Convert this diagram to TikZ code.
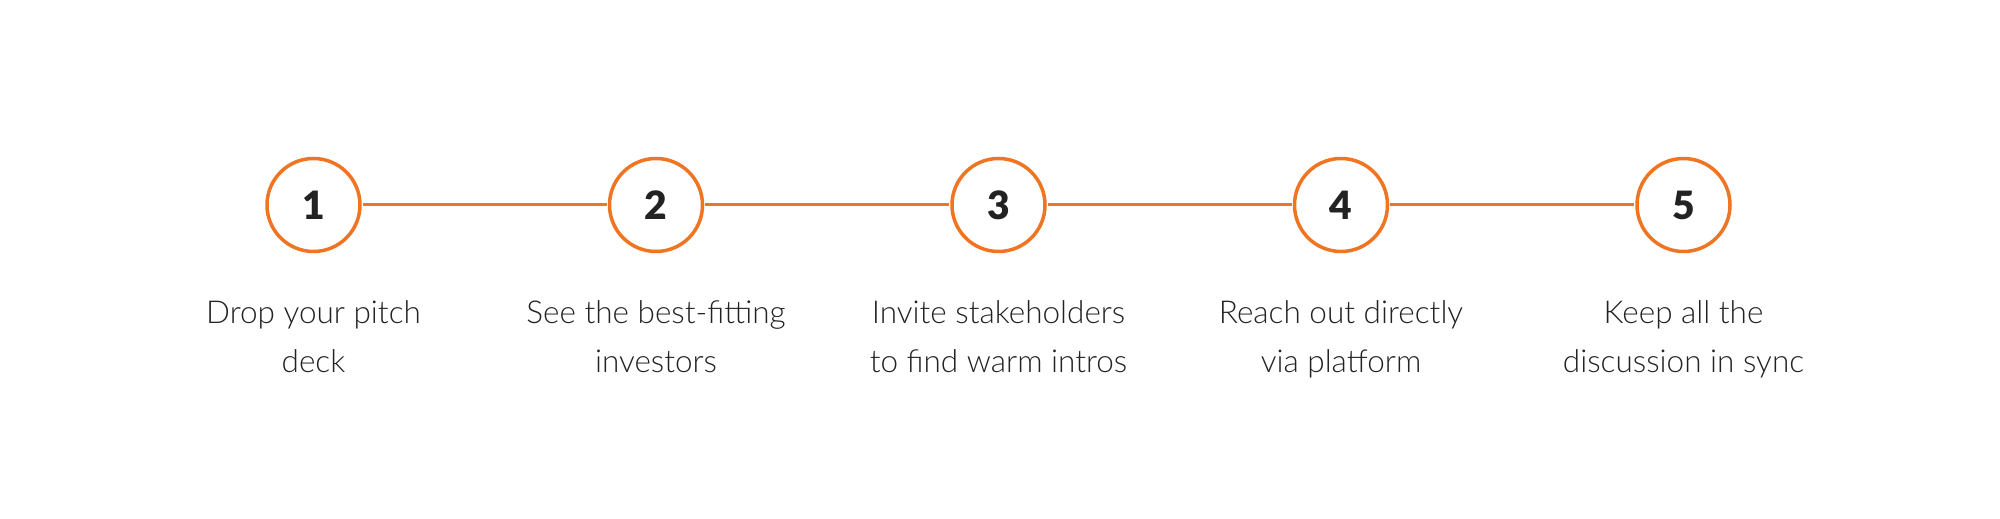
\documentclass[tikz,border=0pt]{standalone}
\usepackage{fontspec}
\setmainfont{Lato}[UprightFont=* Light, BoldFont=* Black]
\definecolor{stepor}{HTML}{F07522}
\definecolor{steptx}{HTML}{222222}
\begin{document}
\begin{tikzpicture}[x=1pt,y=1pt,
  stepcircle/.style={circle,draw=stepor,line width=3.5pt,minimum size=93pt,inner sep=0pt,
    font=\fontsize{39}{39}\selectfont\bfseries,text=steptx},
  steplink/.style={draw=stepor,line width=3pt,shorten <=1pt,shorten >=1pt},
  steplabel/.style={anchor=north,align=center,inner sep=0pt,text=steptx,
    font=\fontsize{31.5}{49}\selectfont}]
\useasboundingbox (0,0) rectangle (2000,519);
\fill[white] (0,0) rectangle (2000,519);
\foreach \i/\x in {1/313.5,2/656,3/998.5,4/1341,5/1683.5}{
  \node[stepcircle] (c\i) at (\x,314) {\i};
}
\foreach \a/\b in {1/2,2/3,3/4,4/5}{
  \draw[steplink] (c\a) -- (c\b);
}
\node[steplabel] (t1) at (313.5,218.5) {Drop your pitch\\deck};
\node[steplabel] (t2) at (656,218.5) {See the best-fitting\\investors};
\node[steplabel] (t3) at (998.5,218.5) {Invite stakeholders\\to find warm intros};
\node[steplabel] (t4) at (1341,218.5) {Reach out directly\\via platform};
\node[steplabel] (t5) at (1683.5,218.5) {Keep all the\\discussion in sync};
\end{tikzpicture}
\end{document}
